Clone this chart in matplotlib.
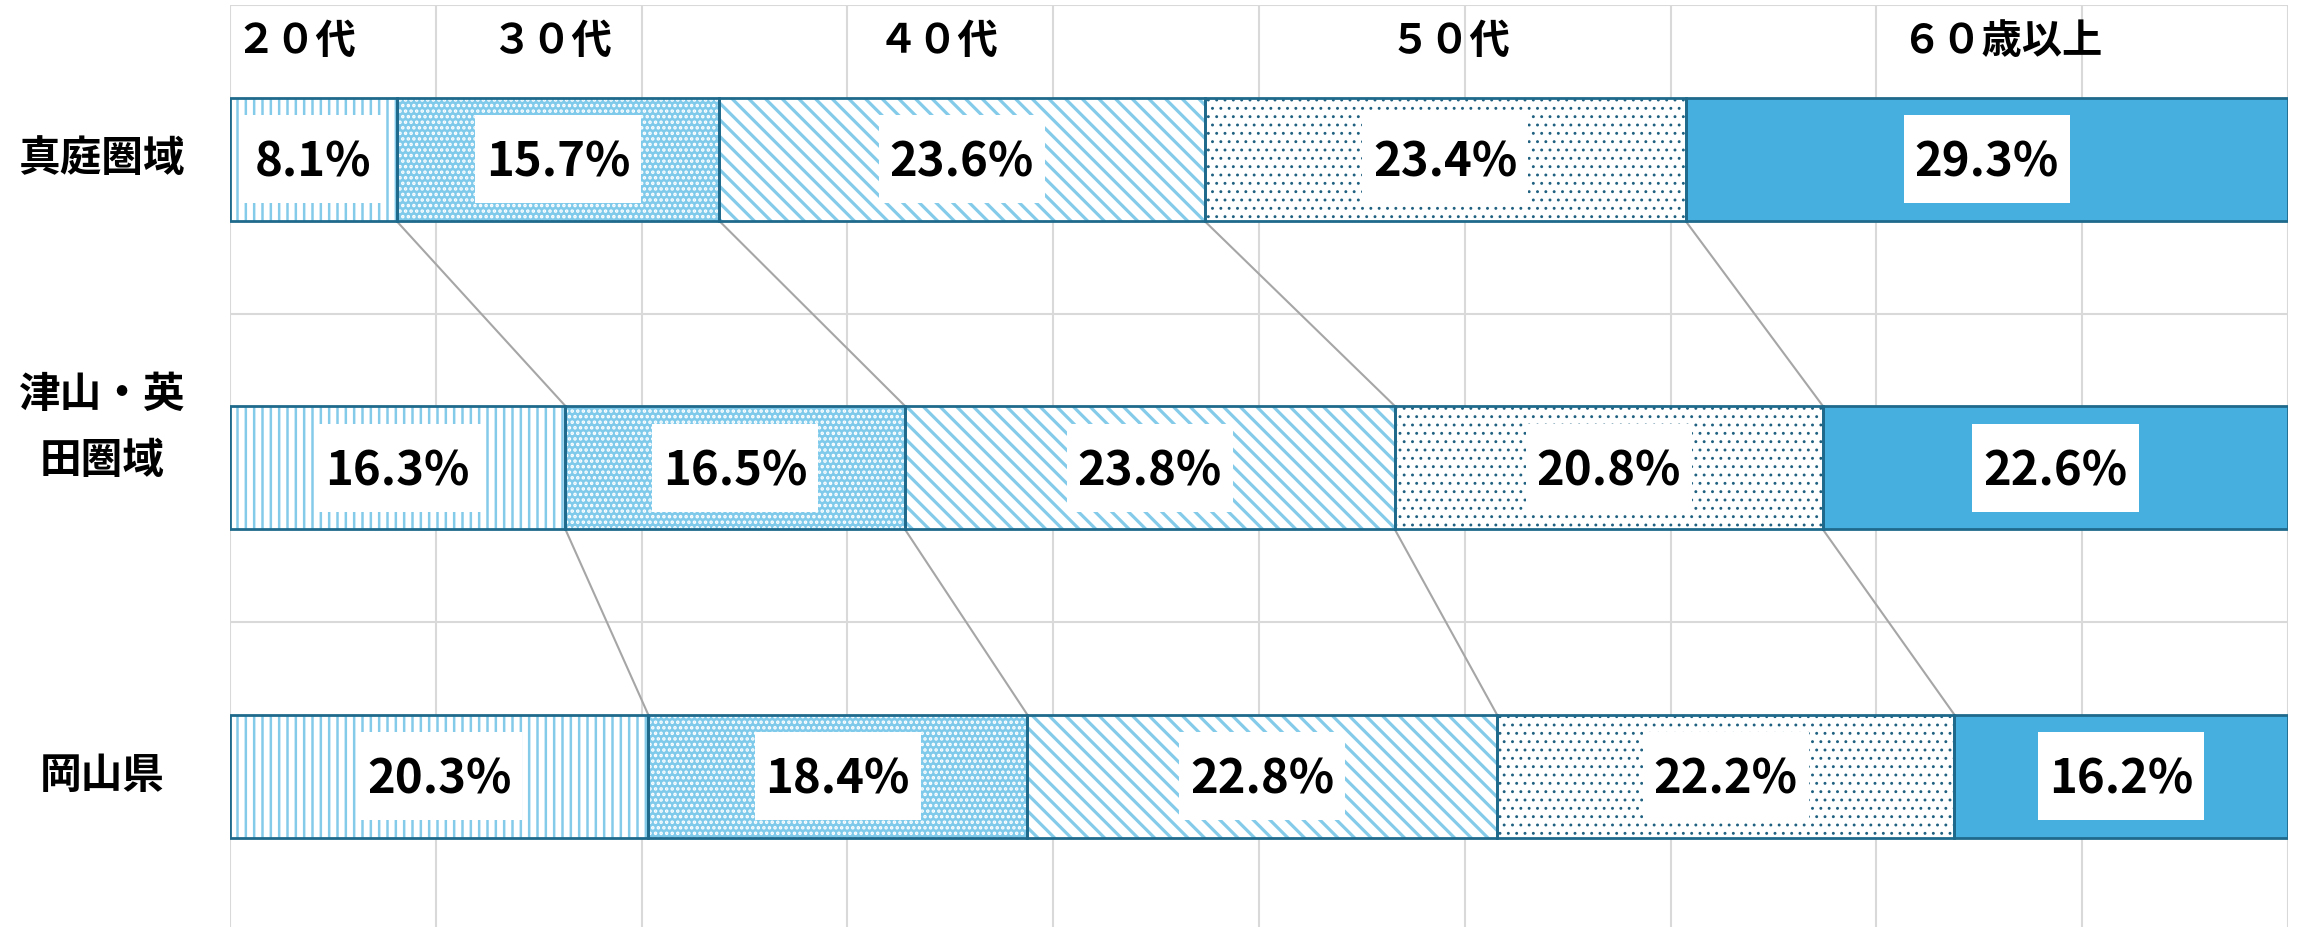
import matplotlib
matplotlib.use("Agg")
import matplotlib.pyplot as plt
import matplotlib.transforms as mtransforms
from matplotlib.patches import Rectangle
import numpy as np

# ---- data ----
regions = ["真庭圏域", "津山・英\n田圏域", "岡山県"]
age_groups = ["２０代", "３０代", "４０代", "５０代", "６０歳以上"]
share_20s = [8.1, 16.3, 20.3]
share_30s = [15.7, 16.5, 18.4]
share_40s = [23.6, 23.8, 22.8]
share_50s = [23.4, 20.8, 22.2]
share_60s = [29.3, 22.6, 16.2]

# ---- style ----
plt.rcParams['font.family'] = ['Noto Sans CJK JP', 'DejaVu Sans']
EDGE = "#1F6A8C"
LIGHT = "#84CBEA"
SOLID = "#47AFDF"
DOT = "#1F6080"
GRID = "#D9D9D9"
CONN = "#A6A6A6"

styles = [
    dict(face="white", hatch="||", hcolor=LIGHT, hlw=1.8),
    dict(face="#7FCAEB", hatch="...", hcolor="white", hlw=1.7),
    dict(face="white", hatch="\\\\", hcolor=LIGHT, hlw=2.3),
    dict(face="white", hatch="..", hcolor=DOT, hlw=0.9),
    dict(face=SOLID, hatch=None, hcolor=SOLID, hlw=1.0),
]
header_x = [3.2, 15.6, 34.4, 59.3, 86.1]

W, H, DPI = 2297, 927, 100
fig = plt.figure(figsize=(W / DPI, H / DPI), dpi=DPI)
ax = fig.add_axes([230 / W, 1 - 930.5 / H, (2288 - 230) / W, 925.5 / H])
ax.set_xlim(0, 100)
ax.set_ylim(2.5, -0.5)

series = [share_20s, share_30s, share_40s, share_50s, share_60s]
vals = np.array(series, dtype=float)           # shape (5, 3)
totals = vals.sum(axis=0)
norm = vals / totals * 100.0
cum = np.cumsum(norm, axis=0)
lefts = np.vstack([np.zeros(3), cum[:-1]])
ypos = np.arange(len(regions))
bar_h = 0.4

for i, st in enumerate(styles):
    with plt.rc_context({'hatch.linewidth': st['hlw']}):
        bars = ax.barh(ypos, norm[i], left=lefts[i], height=bar_h,
                       color=st['face'], edgecolor=st['hcolor'],
                       hatch=st['hatch'], linewidth=0, zorder=2)
        for b in bars:
            if hasattr(b, "set_hatch_linewidth"):
                b.set_hatch_linewidth(st['hlw'])
    ax.barh(ypos, norm[i], left=lefts[i], height=bar_h, fill=False,
            edgecolor=EDGE, linewidth=2.0, zorder=3)

ax.set_xlim(0, 100)
ax.set_ylim(2.5, -0.5)

# value labels (text baseline shifted so the digits are centred on the bar)
FS = 34
cap_px = 0.733 * FS * DPI / 72
shift = mtransforms.ScaledTranslation(0, -cap_px / 2 / DPI, fig.dpi_scale_trans)
texts = []
for i in range(len(series)):
    for j in range(len(regions)):
        cx = lefts[i, j] + norm[i, j] / 2
        t = ax.text(cx, ypos[j], f"{vals[i, j]:.1f}%", ha="center", va="baseline",
                    fontsize=FS, fontweight="bold", color="black", zorder=5,
                    transform=ax.transData + shift)
        texts.append((t, cx, ypos[j]))

fig.canvas.draw()
renderer = fig.canvas.get_renderer()
inv = ax.transData.inverted()
for t, cx, cy in texts:
    bb = t.get_window_extent(renderer)
    px, py = ax.transData.transform((cx, cy))
    w = bb.width + 22
    h = 88
    (x0, y0) = inv.transform((px - w / 2, py - h / 2))
    (x1, y1) = inv.transform((px + w / 2, py + h / 2))
    ax.add_patch(Rectangle((min(x0, x1), min(y0, y1)), abs(x1 - x0), abs(y1 - y0),
                           facecolor="white", edgecolor="none", zorder=4))

# connector lines
for j in range(len(regions) - 1):
    for k in range(len(series) - 1):
        ax.plot([cum[k, j], cum[k, j + 1]],
                [ypos[j] + bar_h / 2, ypos[j + 1] - bar_h / 2],
                color=CONN, linewidth=1.5, zorder=1.5)

# header labels
for hx, name in zip(header_x, age_groups):
    ax.text(hx, -0.383, name, ha="center", va="center", fontsize=29,
            fontweight="bold", color="black", zorder=5)

# row labels
trans = mtransforms.blended_transform_factory(fig.transFigure, ax.transData)
label_y = [0.0, 0.871, 2.0]
for name, ly in zip(regions, label_y):
    ax.text(102 / W, ly, name, transform=trans, ha="center", va="center",
            fontsize=30, fontweight="bold", linespacing=1.7)

ax.set_xticks(np.arange(0, 101, 10))
ax.set_yticks([-0.5, 0.5, 1.5, 2.5])
ax.tick_params(length=0, labelbottom=False, labelleft=False)
ax.grid(True, color=GRID, linewidth=1.5)
ax.set_axisbelow(True)
for s in ax.spines.values():
    s.set_visible(False)

fig.savefig("out.png", dpi=DPI, facecolor="white")
